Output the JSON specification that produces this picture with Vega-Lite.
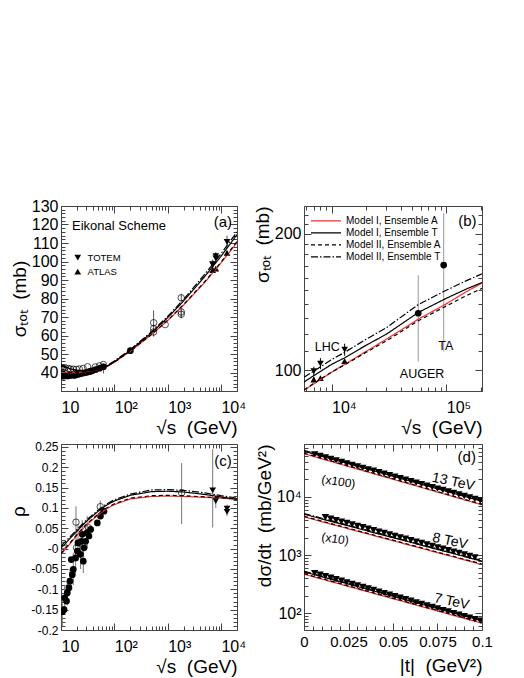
{
  "$schema": "https://vega.github.io/schema/vega-lite/v6.json",
  "padding": {"left": 9, "top": 197, "right": 5, "bottom": 0},
  "config": {
    "font": "Liberation Sans",
    "view": {"stroke": "#444", "strokeWidth": 1},
    "axis": {"domain": false, "grid": false, "labelFont": "Liberation Sans", "labelFontSize": 16, "labelColor": "#000", "titleFont": "Liberation Sans", "titleFontSize": 19, "titleFontWeight": "normal", "titleColor": "#000", "tickColor": "#444", "tickWidth": 1},
    "legend": {"labelFont": "Liberation Sans", "labelColor": "#000", "padding": 0},
    "text": {"font": "Liberation Sans", "color": "#000"}
  },
  "columns": 2,
  "spacing": {"row": 2, "column": 5},
  "resolve": {"scale": {"color": "independent", "shape": "independent", "strokeDash": "independent"}},
  "datasets": {
    "dA": [
      {"x": 10.0, "y": 38.2, "g": "pp"}, {"x": 10.7, "y": 38.0, "g": "pp"}, {"x": 11.5, "y": 38.3, "g": "pp"}, {"x": 12.3, "y": 38.1, "g": "pp"},
      {"x": 13.1, "y": 38.4, "g": "pp"}, {"x": 13.8, "y": 38.2, "g": "pp"}, {"x": 15.0, "y": 38.5, "g": "pp"}, {"x": 16.3, "y": 38.6, "g": "pp"},
      {"x": 17.5, "y": 38.7, "g": "pp"}, {"x": 18.2, "y": 38.5, "g": "pp"}, {"x": 19.4, "y": 38.9, "g": "pp"}, {"x": 20.7, "y": 39.0, "g": "pp"},
      {"x": 21.7, "y": 39.2, "g": "pp"}, {"x": 23.5, "y": 39.4, "g": "pp"}, {"x": 24.5, "y": 39.6, "g": "pp"}, {"x": 27.4, "y": 39.8, "g": "pp"},
      {"x": 30.6, "y": 40.1, "g": "pp"}, {"x": 33.0, "y": 40.4, "g": "pp"}, {"x": 35.0, "y": 40.6, "g": "pp"}, {"x": 38.3, "y": 40.9, "g": "pp"},
      {"x": 44.7, "y": 41.6, "g": "pp"}, {"x": 52.8, "y": 42.3, "g": "pp"}, {"x": 62.5, "y": 43.1, "lo": 39.5, "hi": 44.5, "g": "pp"},
      {"x": 200, "y": 51.8, "lo": 50.4, "hi": 53.2, "g": "pp"},
      {"x": 10.0, "y": 42.8, "g": "ppbar"}, {"x": 11.0, "y": 42.4, "g": "ppbar"}, {"x": 12.0, "y": 42.6, "g": "ppbar"}, {"x": 13.8, "y": 42.1, "g": "ppbar"},
      {"x": 15.0, "y": 41.9, "g": "ppbar"}, {"x": 17.0, "y": 41.8, "g": "ppbar"}, {"x": 19.4, "y": 41.7, "g": "ppbar"}, {"x": 22.0, "y": 41.9, "g": "ppbar"},
      {"x": 26.0, "y": 42.2, "g": "ppbar"}, {"x": 31.5, "y": 43.1, "g": "ppbar"}, {"x": 44.0, "y": 43.0, "g": "ppbar"}, {"x": 52.6, "y": 43.6, "g": "ppbar"},
      {"x": 62.3, "y": 44.3, "g": "ppbar"},
      {"x": 546, "y": 66.9, "lo": 59.4, "hi": 73.6, "g": "ppbar"}, {"x": 546, "y": 63.7, "g": "ppbar"}, {"x": 546, "y": 61.9, "g": "ppbar"},
      {"x": 900, "y": 65.9, "g": "ppbar"},
      {"x": 1800, "y": 80.4, "lo": 78.2, "hi": 82.6, "g": "ppbar"}, {"x": 1800, "y": 72.7, "lo": 69.6, "hi": 75.8, "g": "ppbar"}, {"x": 1800, "y": 71.5, "lo": 69.3, "hi": 73.7, "g": "ppbar"},
      {"x": 7000, "y": 98.3, "lo": 95.5, "hi": 101.1, "g": "TOTEM"}, {"x": 7000, "y": 98.6, "lo": 96.4, "hi": 100.8, "g": "TOTEM"},
      {"x": 8000, "y": 101.7, "lo": 98.8, "hi": 104.6, "g": "TOTEM"}, {"x": 8000, "y": 102.9, "lo": 100.6, "hi": 105.2, "g": "TOTEM"},
      {"x": 13000, "y": 110.6, "lo": 107.2, "hi": 114.0, "g": "TOTEM"},
      {"x": 7000, "y": 95.4, "lo": 94.0, "hi": 96.7, "g": "ATLAS"}, {"x": 8000, "y": 96.1, "lo": 95.1, "hi": 97.0, "g": "ATLAS"},
      {"x": 13000, "y": 104.7, "lo": 103.6, "hi": 105.8, "g": "ATLAS"}
    ],
    "cA": [
      {"x": 10, "y": 40.5, "m": "Model I, Ensemble A"}, {"x": 15, "y": 39.8, "m": "Model I, Ensemble A"}, {"x": 20, "y": 40.0, "m": "Model I, Ensemble A"},
      {"x": 30, "y": 40.5, "m": "Model I, Ensemble A"}, {"x": 50, "y": 41.5, "m": "Model I, Ensemble A"}, {"x": 70, "y": 43.0, "m": "Model I, Ensemble A"},
      {"x": 100, "y": 45.5, "m": "Model I, Ensemble A"}, {"x": 200, "y": 51.5, "m": "Model I, Ensemble A"}, {"x": 500, "y": 60.5, "m": "Model I, Ensemble A"},
      {"x": 1000, "y": 68.0, "m": "Model I, Ensemble A"}, {"x": 2000, "y": 76.5, "m": "Model I, Ensemble A"}, {"x": 5000, "y": 88.8, "m": "Model I, Ensemble A"},
      {"x": 10000, "y": 99.2, "m": "Model I, Ensemble A"}, {"x": 20000, "y": 110.2, "m": "Model I, Ensemble A"},
      {"x": 10, "y": 44.0, "m": "Model I, Ensemble T"}, {"x": 15, "y": 42.0, "m": "Model I, Ensemble T"}, {"x": 20, "y": 41.2, "m": "Model I, Ensemble T"},
      {"x": 30, "y": 40.8, "m": "Model I, Ensemble T"}, {"x": 50, "y": 41.5, "m": "Model I, Ensemble T"}, {"x": 70, "y": 43.0, "m": "Model I, Ensemble T"},
      {"x": 100, "y": 45.8, "m": "Model I, Ensemble T"}, {"x": 200, "y": 52.0, "m": "Model I, Ensemble T"}, {"x": 500, "y": 61.5, "m": "Model I, Ensemble T"},
      {"x": 1000, "y": 69.6, "m": "Model I, Ensemble T"}, {"x": 2000, "y": 78.7, "m": "Model I, Ensemble T"}, {"x": 5000, "y": 92.0, "m": "Model I, Ensemble T"},
      {"x": 10000, "y": 102.8, "m": "Model I, Ensemble T"}, {"x": 20000, "y": 114.5, "m": "Model I, Ensemble T"},
      {"x": 10, "y": 40.8, "m": "Model II, Ensemble A"}, {"x": 15, "y": 40.0, "m": "Model II, Ensemble A"}, {"x": 20, "y": 40.1, "m": "Model II, Ensemble A"},
      {"x": 30, "y": 40.6, "m": "Model II, Ensemble A"}, {"x": 50, "y": 41.6, "m": "Model II, Ensemble A"}, {"x": 70, "y": 43.1, "m": "Model II, Ensemble A"},
      {"x": 100, "y": 45.6, "m": "Model II, Ensemble A"}, {"x": 200, "y": 51.6, "m": "Model II, Ensemble A"}, {"x": 500, "y": 60.6, "m": "Model II, Ensemble A"},
      {"x": 1000, "y": 68.2, "m": "Model II, Ensemble A"}, {"x": 2000, "y": 76.8, "m": "Model II, Ensemble A"}, {"x": 5000, "y": 89.2, "m": "Model II, Ensemble A"},
      {"x": 10000, "y": 99.6, "m": "Model II, Ensemble A"}, {"x": 20000, "y": 110.8, "m": "Model II, Ensemble A"},
      {"x": 10, "y": 43.5, "m": "Model II, Ensemble T"}, {"x": 15, "y": 41.8, "m": "Model II, Ensemble T"}, {"x": 20, "y": 41.2, "m": "Model II, Ensemble T"},
      {"x": 30, "y": 41.0, "m": "Model II, Ensemble T"}, {"x": 50, "y": 41.8, "m": "Model II, Ensemble T"}, {"x": 70, "y": 43.4, "m": "Model II, Ensemble T"},
      {"x": 100, "y": 46.2, "m": "Model II, Ensemble T"}, {"x": 200, "y": 52.4, "m": "Model II, Ensemble T"}, {"x": 500, "y": 62.0, "m": "Model II, Ensemble T"},
      {"x": 1000, "y": 70.3, "m": "Model II, Ensemble T"}, {"x": 2000, "y": 79.6, "m": "Model II, Ensemble T"}, {"x": 5000, "y": 93.2, "m": "Model II, Ensemble T"},
      {"x": 10000, "y": 104.2, "m": "Model II, Ensemble T"}, {"x": 20000, "y": 116.0, "m": "Model II, Ensemble T"}
    ],
    "tA1": [{"x": 16.1, "y": 119.2, "label": "Eikonal Scheme"}],
    "tA2": [{"x": 7300, "y": 121.5, "label": "(a)"}],
    "dB": [
      {"x": 7000, "y": 99.5, "lo": 97.3, "hi": 101.8, "g": "TOTEM"}, {"x": 8000, "y": 103.4, "lo": 100.5, "hi": 106.3, "g": "TOTEM"},
      {"x": 13000, "y": 111.0, "lo": 107.6, "hi": 114.4, "g": "TOTEM"},
      {"x": 7000, "y": 95.4, "lo": 94.0, "hi": 96.7, "g": "ATLAS"}, {"x": 8000, "y": 96.1, "lo": 95.1, "hi": 97.0, "g": "ATLAS"},
      {"x": 13000, "y": 104.7, "lo": 103.6, "hi": 105.8, "g": "ATLAS"},
      {"x": 57000, "y": 133.5, "lo": 104.5, "hi": 162, "g": "AUGER"},
      {"x": 95000, "y": 170.5, "lo": 110, "hi": 222, "g": "TA"}
    ],
    "cB": [
      {"x": 5750, "y": 90.3, "m": "Model I, Ensemble A"}, {"x": 7000, "y": 93.3, "m": "Model I, Ensemble A"}, {"x": 10000, "y": 99, "m": "Model I, Ensemble A"},
      {"x": 13000, "y": 103, "m": "Model I, Ensemble A"}, {"x": 20000, "y": 110, "m": "Model I, Ensemble A"}, {"x": 30000, "y": 117, "m": "Model I, Ensemble A"},
      {"x": 57000, "y": 129.5, "m": "Model I, Ensemble A"}, {"x": 100000, "y": 140, "m": "Model I, Ensemble A"}, {"x": 150000, "y": 149, "m": "Model I, Ensemble A"},
      {"x": 205000, "y": 155.5, "m": "Model I, Ensemble A"},
      {"x": 5750, "y": 94.2, "m": "Model I, Ensemble T"}, {"x": 7000, "y": 97.3, "m": "Model I, Ensemble T"}, {"x": 10000, "y": 103, "m": "Model I, Ensemble T"},
      {"x": 13000, "y": 106.5, "m": "Model I, Ensemble T"}, {"x": 20000, "y": 113.5, "m": "Model I, Ensemble T"}, {"x": 30000, "y": 120, "m": "Model I, Ensemble T"},
      {"x": 57000, "y": 134, "m": "Model I, Ensemble T"}, {"x": 100000, "y": 144, "m": "Model I, Ensemble T"}, {"x": 150000, "y": 151, "m": "Model I, Ensemble T"},
      {"x": 205000, "y": 156, "m": "Model I, Ensemble T"},
      {"x": 5750, "y": 90.5, "m": "Model II, Ensemble A"}, {"x": 7000, "y": 93.5, "m": "Model II, Ensemble A"}, {"x": 10000, "y": 99, "m": "Model II, Ensemble A"},
      {"x": 13000, "y": 102.8, "m": "Model II, Ensemble A"}, {"x": 20000, "y": 109.5, "m": "Model II, Ensemble A"}, {"x": 30000, "y": 116, "m": "Model II, Ensemble A"},
      {"x": 57000, "y": 128.5, "m": "Model II, Ensemble A"}, {"x": 100000, "y": 138.5, "m": "Model II, Ensemble A"}, {"x": 150000, "y": 146, "m": "Model II, Ensemble A"},
      {"x": 205000, "y": 151.5, "m": "Model II, Ensemble A"},
      {"x": 5750, "y": 96.5, "m": "Model II, Ensemble T"}, {"x": 7000, "y": 99.5, "m": "Model II, Ensemble T"}, {"x": 10000, "y": 105.5, "m": "Model II, Ensemble T"},
      {"x": 13000, "y": 109.5, "m": "Model II, Ensemble T"}, {"x": 20000, "y": 117, "m": "Model II, Ensemble T"}, {"x": 30000, "y": 124, "m": "Model II, Ensemble T"},
      {"x": 57000, "y": 139.5, "m": "Model II, Ensemble T"}, {"x": 100000, "y": 150, "m": "Model II, Ensemble T"}, {"x": 150000, "y": 157.5, "m": "Model II, Ensemble T"},
      {"x": 205000, "y": 163, "m": "Model II, Ensemble T"}
    ],
    "tB1": [
      {"x": 7150, "y": 112.5, "label": "LHC"}, {"x": 39400, "y": 98.3, "label": "AUGER"}, {"x": 85100, "y": 112.9, "label": "TA"}
    ],
    "tB2": [{"x": 127000, "y": 213.4, "label": "(b)"}],
    "dC": [
      {"x": 10.6, "y": -0.155, "lo": -0.19, "hi": -0.12, "g": "pp"}, {"x": 11.4, "y": -0.150, "g": "pp"}, {"x": 11.7, "y": -0.121, "lo": -0.15, "hi": -0.09, "g": "pp"},
      {"x": 12.7, "y": -0.129, "g": "pp"}, {"x": 13.1, "y": -0.109, "lo": -0.14, "hi": -0.08, "g": "pp"}, {"x": 14.1, "y": -0.096, "g": "pp"},
      {"x": 14.7, "y": -0.080, "lo": -0.11, "hi": -0.05, "g": "pp"}, {"x": 16.3, "y": -0.064, "g": "pp"}, {"x": 17.0, "y": -0.051, "lo": -0.09, "hi": -0.01, "g": "pp"},
      {"x": 15.6, "y": -0.027, "g": "pp"}, {"x": 18.8, "y": -0.023, "lo": -0.06, "hi": 0.015, "g": "pp"}, {"x": 20.2, "y": -0.006, "g": "pp"},
      {"x": 20.8, "y": 0.014, "lo": -0.03, "hi": 0.06, "g": "pp"}, {"x": 23.3, "y": -0.014, "lo": -0.05, "hi": 0.02, "g": "pp"}, {"x": 24.0, "y": 0.018, "g": "pp"},
      {"x": 25.0, "y": 0.035, "lo": 0.0, "hi": 0.07, "g": "pp"}, {"x": 26.2, "y": -0.031, "lo": -0.06, "hi": 0.0, "g": "pp"}, {"x": 27.0, "y": 0.002, "g": "pp"},
      {"x": 29.0, "y": 0.018, "g": "pp"}, {"x": 31.0, "y": 0.039, "lo": 0.0, "hi": 0.08, "g": "pp"}, {"x": 33.5, "y": 0.031, "g": "pp"},
      {"x": 36.0, "y": 0.047, "g": "pp"}, {"x": 48.0, "y": 0.063, "g": "pp"}, {"x": 55.0, "y": 0.080, "g": "pp"}, {"x": 64.0, "y": 0.092, "g": "pp"},
      {"x": 11.0, "y": 0.008, "g": "ppbar"}, {"x": 19.1, "y": 0.065, "lo": 0.01, "hi": 0.104, "g": "ppbar"}, {"x": 19.5, "y": 0.002, "g": "ppbar"},
      {"x": 33.0, "y": 0.051, "g": "ppbar"}, {"x": 54.6, "y": 0.103, "lo": 0.088, "hi": 0.118, "g": "ppbar"},
      {"x": 1830, "y": 0.137, "lo": 0.06, "hi": 0.21, "g": "ppbar"},
      {"x": 7000, "y": 0.143, "lo": 0.052, "hi": 0.244, "g": "TOTEM"}, {"x": 8000, "y": 0.117, "lo": 0.1, "hi": 0.129, "g": "TOTEM"},
      {"x": 13000, "y": 0.098, "lo": 0.088, "hi": 0.108, "g": "TOTEM"}, {"x": 13000, "y": 0.090, "lo": 0.080, "hi": 0.100, "g": "TOTEM"}
    ],
    "cC": [
      {"x": 10, "y": -0.014, "m": "Model I, Ensemble A"}, {"x": 12, "y": -0.002, "m": "Model I, Ensemble A"}, {"x": 15, "y": 0.013, "m": "Model I, Ensemble A"},
      {"x": 20, "y": 0.033, "m": "Model I, Ensemble A"}, {"x": 30, "y": 0.058, "m": "Model I, Ensemble A"}, {"x": 50, "y": 0.083, "m": "Model I, Ensemble A"},
      {"x": 70, "y": 0.097, "m": "Model I, Ensemble A"}, {"x": 100, "y": 0.108, "m": "Model I, Ensemble A"}, {"x": 200, "y": 0.122, "m": "Model I, Ensemble A"},
      {"x": 500, "y": 0.128, "m": "Model I, Ensemble A"}, {"x": 1000, "y": 0.129, "m": "Model I, Ensemble A"}, {"x": 2000, "y": 0.128, "m": "Model I, Ensemble A"},
      {"x": 5000, "y": 0.126, "m": "Model I, Ensemble A"}, {"x": 10000, "y": 0.124, "m": "Model I, Ensemble A"}, {"x": 20000, "y": 0.121, "m": "Model I, Ensemble A"},
      {"x": 10, "y": 0.002, "m": "Model I, Ensemble T"}, {"x": 12, "y": 0.012, "m": "Model I, Ensemble T"}, {"x": 15, "y": 0.026, "m": "Model I, Ensemble T"},
      {"x": 20, "y": 0.043, "m": "Model I, Ensemble T"}, {"x": 30, "y": 0.067, "m": "Model I, Ensemble T"}, {"x": 50, "y": 0.092, "m": "Model I, Ensemble T"},
      {"x": 70, "y": 0.106, "m": "Model I, Ensemble T"}, {"x": 100, "y": 0.117, "m": "Model I, Ensemble T"}, {"x": 200, "y": 0.131, "m": "Model I, Ensemble T"},
      {"x": 500, "y": 0.140, "m": "Model I, Ensemble T"}, {"x": 1000, "y": 0.141, "m": "Model I, Ensemble T"}, {"x": 2000, "y": 0.139, "m": "Model I, Ensemble T"},
      {"x": 5000, "y": 0.133, "m": "Model I, Ensemble T"}, {"x": 10000, "y": 0.127, "m": "Model I, Ensemble T"}, {"x": 20000, "y": 0.121, "m": "Model I, Ensemble T"},
      {"x": 10, "y": -0.012, "m": "Model II, Ensemble A"}, {"x": 12, "y": 0.0, "m": "Model II, Ensemble A"}, {"x": 15, "y": 0.015, "m": "Model II, Ensemble A"},
      {"x": 20, "y": 0.035, "m": "Model II, Ensemble A"}, {"x": 30, "y": 0.060, "m": "Model II, Ensemble A"}, {"x": 50, "y": 0.085, "m": "Model II, Ensemble A"},
      {"x": 70, "y": 0.099, "m": "Model II, Ensemble A"}, {"x": 100, "y": 0.110, "m": "Model II, Ensemble A"}, {"x": 200, "y": 0.124, "m": "Model II, Ensemble A"},
      {"x": 500, "y": 0.130, "m": "Model II, Ensemble A"}, {"x": 1000, "y": 0.131, "m": "Model II, Ensemble A"}, {"x": 2000, "y": 0.130, "m": "Model II, Ensemble A"},
      {"x": 5000, "y": 0.127, "m": "Model II, Ensemble A"}, {"x": 10000, "y": 0.125, "m": "Model II, Ensemble A"}, {"x": 20000, "y": 0.122, "m": "Model II, Ensemble A"},
      {"x": 10, "y": 0.007, "m": "Model II, Ensemble T"}, {"x": 12, "y": 0.017, "m": "Model II, Ensemble T"}, {"x": 15, "y": 0.030, "m": "Model II, Ensemble T"},
      {"x": 20, "y": 0.047, "m": "Model II, Ensemble T"}, {"x": 30, "y": 0.070, "m": "Model II, Ensemble T"}, {"x": 50, "y": 0.095, "m": "Model II, Ensemble T"},
      {"x": 70, "y": 0.109, "m": "Model II, Ensemble T"}, {"x": 100, "y": 0.120, "m": "Model II, Ensemble T"}, {"x": 200, "y": 0.134, "m": "Model II, Ensemble T"},
      {"x": 500, "y": 0.144, "m": "Model II, Ensemble T"}, {"x": 1000, "y": 0.145, "m": "Model II, Ensemble T"}, {"x": 2000, "y": 0.143, "m": "Model II, Ensemble T"},
      {"x": 5000, "y": 0.137, "m": "Model II, Ensemble T"}, {"x": 10000, "y": 0.130, "m": "Model II, Ensemble T"}, {"x": 20000, "y": 0.124, "m": "Model II, Ensemble T"}
    ],
    "tC": [{"x": 7520, "y": 0.215, "label": "(c)"}],
    "dD": [
      {"x": 0.006, "y": 53380, "e": "13"}, {"x": 0.009, "y": 50340, "e": "13"}, {"x": 0.012, "y": 47480, "e": "13"}, {"x": 0.015, "y": 44790, "e": "13"},
      {"x": 0.018, "y": 42240, "e": "13"}, {"x": 0.021, "y": 39840, "e": "13"}, {"x": 0.024, "y": 37580, "e": "13"}, {"x": 0.027, "y": 35440, "e": "13"},
      {"x": 0.030, "y": 33430, "e": "13"}, {"x": 0.033, "y": 31530, "e": "13"}, {"x": 0.036, "y": 29730, "e": "13"}, {"x": 0.039, "y": 28050, "e": "13"},
      {"x": 0.042, "y": 26450, "e": "13"}, {"x": 0.045, "y": 24950, "e": "13"}, {"x": 0.048, "y": 23530, "e": "13"}, {"x": 0.051, "y": 22190, "e": "13"},
      {"x": 0.054, "y": 20930, "e": "13"}, {"x": 0.057, "y": 19740, "e": "13"}, {"x": 0.060, "y": 18620, "e": "13"}, {"x": 0.063, "y": 17560, "e": "13"},
      {"x": 0.066, "y": 16570, "e": "13"}, {"x": 0.069, "y": 15620, "e": "13"}, {"x": 0.072, "y": 14740, "e": "13"}, {"x": 0.075, "y": 13900, "e": "13"},
      {"x": 0.078, "y": 13110, "e": "13"}, {"x": 0.081, "y": 12370, "e": "13"}, {"x": 0.084, "y": 11660, "e": "13"}, {"x": 0.087, "y": 11000, "e": "13"},
      {"x": 0.090, "y": 10380, "e": "13"}, {"x": 0.093, "y": 9790, "e": "13"}, {"x": 0.096, "y": 9230, "e": "13"}, {"x": 0.099, "y": 8710, "e": "13"},
      {"x": 0.012, "y": 4470, "e": "8"}, {"x": 0.015, "y": 4224, "e": "8"}, {"x": 0.018, "y": 3992, "e": "8"}, {"x": 0.021, "y": 3772, "e": "8"},
      {"x": 0.024, "y": 3565, "e": "8"}, {"x": 0.027, "y": 3369, "e": "8"}, {"x": 0.030, "y": 3184, "e": "8"}, {"x": 0.033, "y": 3009, "e": "8"},
      {"x": 0.036, "y": 2843, "e": "8"}, {"x": 0.039, "y": 2687, "e": "8"}, {"x": 0.042, "y": 2539, "e": "8"}, {"x": 0.045, "y": 2399, "e": "8"},
      {"x": 0.048, "y": 2267, "e": "8"}, {"x": 0.051, "y": 2143, "e": "8"}, {"x": 0.054, "y": 2025, "e": "8"}, {"x": 0.057, "y": 1914, "e": "8"},
      {"x": 0.060, "y": 1808, "e": "8"}, {"x": 0.063, "y": 1709, "e": "8"}, {"x": 0.066, "y": 1615, "e": "8"}, {"x": 0.069, "y": 1526, "e": "8"},
      {"x": 0.072, "y": 1442, "e": "8"}, {"x": 0.075, "y": 1363, "e": "8"}, {"x": 0.078, "y": 1288, "e": "8"}, {"x": 0.081, "y": 1217, "e": "8"},
      {"x": 0.084, "y": 1150, "e": "8"}, {"x": 0.087, "y": 1087, "e": "8"}, {"x": 0.090, "y": 1027, "e": "8"}, {"x": 0.093, "y": 971, "e": "8"},
      {"x": 0.096, "y": 917, "e": "8"},
      {"x": 0.006, "y": 492, "e": "7"}, {"x": 0.009, "y": 463, "e": "7"}, {"x": 0.012, "y": 436, "e": "7"}, {"x": 0.015, "y": 410, "e": "7"},
      {"x": 0.018, "y": 386, "e": "7"}, {"x": 0.021, "y": 363, "e": "7"}, {"x": 0.024, "y": 342, "e": "7"}, {"x": 0.027, "y": 322, "e": "7"},
      {"x": 0.030, "y": 303, "e": "7"}, {"x": 0.033, "y": 285, "e": "7"}, {"x": 0.036, "y": 268, "e": "7"}, {"x": 0.039, "y": 252, "e": "7"},
      {"x": 0.042, "y": 237, "e": "7"}, {"x": 0.045, "y": 223, "e": "7"}, {"x": 0.048, "y": 210, "e": "7"}, {"x": 0.051, "y": 198, "e": "7"},
      {"x": 0.054, "y": 186, "e": "7"}, {"x": 0.057, "y": 175, "e": "7"}, {"x": 0.060, "y": 165, "e": "7"}, {"x": 0.063, "y": 155, "e": "7"},
      {"x": 0.066, "y": 146, "e": "7"}, {"x": 0.069, "y": 137, "e": "7"}, {"x": 0.072, "y": 129, "e": "7"}, {"x": 0.075, "y": 122, "e": "7"},
      {"x": 0.078, "y": 114, "e": "7"}, {"x": 0.081, "y": 108, "e": "7"}, {"x": 0.084, "y": 101, "e": "7"}, {"x": 0.087, "y": 95.3, "e": "7"},
      {"x": 0.090, "y": 89.7, "e": "7"}, {"x": 0.093, "y": 84.4, "e": "7"}, {"x": 0.096, "y": 79.4, "e": "7"}, {"x": 0.099, "y": 74.7, "e": "7"}
    ],
    "cD": [
      {"x": 0, "y": 55300, "m": "Model I, Ensemble A", "e": "13"}, {"x": 0.1, "y": 7300, "m": "Model I, Ensemble A", "e": "13"},
      {"x": 0, "y": 61000, "m": "Model I, Ensemble T", "e": "13"}, {"x": 0.1, "y": 8400, "m": "Model I, Ensemble T", "e": "13"},
      {"x": 0, "y": 56500, "m": "Model II, Ensemble A", "e": "13"}, {"x": 0.1, "y": 7450, "m": "Model II, Ensemble A", "e": "13"},
      {"x": 0, "y": 63000, "m": "Model II, Ensemble T", "e": "13"}, {"x": 0.1, "y": 8700, "m": "Model II, Ensemble T", "e": "13"},
      {"x": 0, "y": 4540, "m": "Model I, Ensemble A", "e": "8"}, {"x": 0.1, "y": 690, "m": "Model I, Ensemble A", "e": "8"},
      {"x": 0, "y": 5050, "m": "Model I, Ensemble T", "e": "8"}, {"x": 0.1, "y": 790, "m": "Model I, Ensemble T", "e": "8"},
      {"x": 0, "y": 4650, "m": "Model II, Ensemble A", "e": "8"}, {"x": 0.1, "y": 705, "m": "Model II, Ensemble A", "e": "8"},
      {"x": 0, "y": 5200, "m": "Model II, Ensemble T", "e": "8"}, {"x": 0.1, "y": 810, "m": "Model II, Ensemble T", "e": "8"},
      {"x": 0, "y": 472, "m": "Model I, Ensemble A", "e": "7"}, {"x": 0.1, "y": 68, "m": "Model I, Ensemble A", "e": "7"},
      {"x": 0, "y": 518, "m": "Model I, Ensemble T", "e": "7"}, {"x": 0.1, "y": 74.8, "m": "Model I, Ensemble T", "e": "7"},
      {"x": 0, "y": 482, "m": "Model II, Ensemble A", "e": "7"}, {"x": 0.1, "y": 69.5, "m": "Model II, Ensemble A", "e": "7"},
      {"x": 0, "y": 532, "m": "Model II, Ensemble T", "e": "7"}, {"x": 0.1, "y": 77, "m": "Model II, Ensemble T", "e": "7"}
    ],
    "tD1": [
      {"x": 0.072, "y": 21500, "label": "13 TeV"}, {"x": 0.0723, "y": 2010, "label": "8 TeV"}, {"x": 0.0732, "y": 184, "label": "7 TeV"}
    ],
    "tD2": [
      {"x": 0.0099, "y": 20100, "label": "(x100)"}, {"x": 0.0099, "y": 2060, "label": "(x10)"}
    ],
    "tD3": [{"x": 0.0863, "y": 48500, "label": "(d)"}]
  },
  "concat": [
    {
      "width": 176, "height": 185,
      "resolve": {"axis": {"x": "independent", "y": "independent"}},
      "layer": [
        {
          "data": {"name": "dA"},
          "transform": [{"filter": "isValid(datum.lo)"}],
          "mark": {"type": "rule", "color": "#555", "strokeWidth": 1, "clip": true},
          "encoding": {
            "x": {"field": "x", "type": "quantitative", "scale": {"type": "log", "domain": [10, 20000], "nice": false},
                  "axis": {"orient": "bottom", "values": [10, 100, 1000, 10000], "labelExpr": "datum.value < 50 ? '10' : datum.value < 500 ? '10²' : datum.value < 5000 ? '10³' : '10⁴'", "labelAlign": "left", "labelDx": -9, "labelFlush": false, "ticks": false, "labelPadding": 8, "title": "√s \u00a0(GeV)", "titleAnchor": "end", "titlePadding": 3}},
            "y": {"field": "lo", "type": "quantitative", "scale": {"domain": [30, 130], "nice": false},
                  "axis": {"orient": "left", "values": [40, 50, 60, 70, 80, 90, 100, 110, 120, 130], "ticks": false, "labelPadding": 3, "title": "σₜₒₜ \u00a0(mb)", "titlePadding": 2}},
            "y2": {"field": "hi"}
          }
        },
        {
          "data": {"name": "dA"},
          "transform": [{"filter": "datum.g == 'ppbar'"}],
          "mark": {"type": "point", "shape": "circle", "filled": false, "color": "#000", "strokeWidth": 1, "size": 42, "clip": true},
          "encoding": {
            "x": {"field": "x", "type": "quantitative", "scale": {"type": "log", "domain": [10, 20000], "nice": false},
                  "axis": {"orient": "bottom", "values": [10, 100, 1000, 10000], "labels": false, "tickSize": -7, "title": null}},
            "y": {"field": "y", "type": "quantitative", "scale": {"domain": [30, 130], "nice": false},
                  "axis": {"orient": "left", "values": [30, 40, 50, 60, 70, 80, 90, 100, 110, 120, 130], "labels": false, "tickSize": -7, "title": null}}
          }
        },
        {
          "data": {"name": "dA"},
          "transform": [{"filter": "datum.g != 'ppbar'"}],
          "mark": {"type": "point", "filled": true, "color": "#000", "size": 45, "opacity": 1, "clip": true},
          "encoding": {
            "x": {"field": "x", "type": "quantitative", "scale": {"type": "log", "domain": [10, 20000], "nice": false},
                  "axis": {"orient": "bottom", "values": [20, 30, 40, 50, 60, 70, 80, 90, 200, 300, 400, 500, 600, 700, 800, 900, 2000, 3000, 4000, 5000, 6000, 7000, 8000, 9000, 20000], "labels": false, "tickSize": -4, "title": null}},
            "y": {"field": "y", "type": "quantitative", "scale": {"domain": [30, 130], "nice": false},
                  "axis": {"orient": "left", "values": [30, 32, 34, 36, 38, 40, 42, 44, 46, 48, 50, 52, 54, 56, 58, 60, 62, 64, 66, 68, 70, 72, 74, 76, 78, 80, 82, 84, 86, 88, 90, 92, 94, 96, 98, 100, 102, 104, 106, 108, 110, 112, 114, 116, 118, 120, 122, 124, 126, 128, 130], "labels": false, "tickSize": -4, "title": null}},
            "shape": {"field": "g", "type": "nominal", "scale": {"domain": ["TOTEM", "ATLAS", "pp"], "range": ["triangle-down", "triangle-up", "circle"]},
                      "legend": {"values": ["TOTEM", "ATLAS"], "title": null, "orient": "none", "legendX": 12, "legendY": 45, "labelFontSize": 9.5, "symbolSize": 45, "symbolFillColor": "#000", "symbolStrokeColor": "#000", "symbolStrokeWidth": 0, "clipHeight": 13.3, "rowPadding": 0, "labelOffset": 5}}
          }
        },
        {
          "data": {"name": "cA"},
          "mark": {"type": "line", "strokeWidth": 1.2, "clip": true},
          "encoding": {
            "x": {"field": "x", "type": "quantitative", "scale": {"type": "log", "domain": [10, 20000], "nice": false},
                  "axis": {"orient": "top", "values": [10, 100, 1000, 10000], "labels": false, "tickSize": -7, "title": null}},
            "y": {"field": "y", "type": "quantitative", "scale": {"domain": [30, 130], "nice": false},
                  "axis": {"orient": "right", "values": [30, 40, 50, 60, 70, 80, 90, 100, 110, 120, 130], "labels": false, "tickSize": -7, "title": null}},
            "color": {"field": "m", "type": "nominal", "scale": {"domain": ["Model I, Ensemble A", "Model I, Ensemble T", "Model II, Ensemble A", "Model II, Ensemble T"], "range": ["#ff2a2a", "#000000", "#000000", "#000000"]}, "legend": null},
            "strokeDash": {"field": "m", "type": "nominal", "scale": {"domain": ["Model I, Ensemble A", "Model I, Ensemble T", "Model II, Ensemble A", "Model II, Ensemble T"], "range": [[1, 0], [1, 0], [4, 3], [7, 2, 1.5, 2]]}, "legend": null}
          }
        },
        {
          "data": {"name": "tA1"},
          "mark": {"type": "text", "align": "left", "baseline": "middle", "fontSize": 13},
          "encoding": {
            "x": {"field": "x", "type": "quantitative", "scale": {"type": "log", "domain": [10, 20000], "nice": false},
                  "axis": {"orient": "top", "values": [20, 30, 40, 50, 60, 70, 80, 90, 200, 300, 400, 500, 600, 700, 800, 900, 2000, 3000, 4000, 5000, 6000, 7000, 8000, 9000, 20000], "labels": false, "tickSize": -4, "title": null}},
            "y": {"field": "y", "type": "quantitative", "scale": {"domain": [30, 130], "nice": false},
                  "axis": {"orient": "right", "values": [30, 32, 34, 36, 38, 40, 42, 44, 46, 48, 50, 52, 54, 56, 58, 60, 62, 64, 66, 68, 70, 72, 74, 76, 78, 80, 82, 84, 86, 88, 90, 92, 94, 96, 98, 100, 102, 104, 106, 108, 110, 112, 114, 116, 118, 120, 122, 124, 126, 128, 130], "labels": false, "tickSize": -4, "title": null}},
            "text": {"field": "label"}
          }
        },
        {
          "data": {"name": "tA2"},
          "mark": {"type": "text", "align": "left", "baseline": "middle", "fontSize": 15},
          "encoding": {
            "x": {"field": "x", "type": "quantitative", "scale": {"type": "log", "domain": [10, 20000], "nice": false}, "axis": null},
            "y": {"field": "y", "type": "quantitative", "scale": {"domain": [30, 130], "nice": false}, "axis": null},
            "text": {"field": "label"}
          }
        }
      ]
    },
    {
      "width": 178, "height": 185,
      "resolve": {"axis": {"x": "independent", "y": "independent"}},
      "layer": [
        {
          "data": {"name": "dB"},
          "transform": [{"filter": "datum.g == 'AUGER' || datum.g == 'TA'"}],
          "mark": {"type": "rule", "color": "#999", "strokeWidth": 1, "clip": true},
          "encoding": {
            "x": {"field": "x", "type": "quantitative", "scale": {"type": "log", "domain": [5750, 205000], "nice": false},
                  "axis": {"orient": "bottom", "values": [10000, 100000], "labelExpr": "datum.value < 50000 ? '10⁴' : '10⁵'", "labelAlign": "left", "labelDx": -9, "labelFlush": false, "ticks": false, "labelPadding": 8, "title": "√s \u00a0(GeV)", "titleAnchor": "end", "titlePadding": 3}},
            "y": {"field": "lo", "type": "quantitative", "scale": {"type": "log", "domain": [90, 230], "nice": false},
                  "axis": {"orient": "left", "values": [100, 200], "format": "d", "ticks": false, "labelPadding": 3, "title": "σₜₒₜ \u00a0(mb)", "titleAnchor": "end", "titlePadding": 2}},
            "y2": {"field": "hi"}
          }
        },
        {
          "data": {"name": "dB"},
          "transform": [{"filter": "datum.g == 'TOTEM' || datum.g == 'ATLAS'"}],
          "mark": {"type": "rule", "color": "#000", "strokeWidth": 1, "clip": true},
          "encoding": {
            "x": {"field": "x", "type": "quantitative", "scale": {"type": "log", "domain": [5750, 205000], "nice": false},
                  "axis": {"orient": "bottom", "values": [10000, 100000], "labels": false, "tickSize": -7, "title": null}},
            "y": {"field": "lo", "type": "quantitative", "scale": {"type": "log", "domain": [90, 230], "nice": false},
                  "axis": {"orient": "left", "values": [100, 200], "labels": false, "tickSize": -7, "title": null}},
            "y2": {"field": "hi"}
          }
        },
        {
          "data": {"name": "dB"},
          "mark": {"type": "point", "filled": true, "color": "#000", "size": 45, "opacity": 1, "clip": true},
          "encoding": {
            "x": {"field": "x", "type": "quantitative", "scale": {"type": "log", "domain": [5750, 205000], "nice": false},
                  "axis": {"orient": "bottom", "values": [6000, 7000, 8000, 9000, 20000, 30000, 40000, 50000, 60000, 70000, 80000, 90000, 200000], "labels": false, "tickSize": -4, "title": null}},
            "y": {"field": "y", "type": "quantitative", "scale": {"type": "log", "domain": [90, 230], "nice": false},
                  "axis": {"orient": "left", "values": [90, 110, 120, 130, 140, 150, 160, 170, 180, 190, 210, 220], "labels": false, "tickSize": -4, "title": null}},
            "shape": {"field": "g", "type": "nominal", "scale": {"domain": ["TOTEM", "ATLAS", "AUGER", "TA"], "range": ["triangle-down", "triangle-up", "circle", "circle"]}, "legend": null}
          }
        },
        {
          "data": {"name": "cB"},
          "mark": {"type": "line", "strokeWidth": 1.2, "clip": true},
          "encoding": {
            "x": {"field": "x", "type": "quantitative", "scale": {"type": "log", "domain": [5750, 205000], "nice": false},
                  "axis": {"orient": "top", "values": [10000, 100000], "labels": false, "tickSize": -7, "title": null}},
            "y": {"field": "y", "type": "quantitative", "scale": {"type": "log", "domain": [90, 230], "nice": false},
                  "axis": {"orient": "right", "values": [100, 200], "labels": false, "tickSize": -7, "title": null}},
            "color": {"field": "m", "type": "nominal", "scale": {"domain": ["Model I, Ensemble A", "Model I, Ensemble T", "Model II, Ensemble A", "Model II, Ensemble T"], "range": ["#ff2a2a", "#000000", "#000000", "#000000"]},
                      "legend": {"title": null, "orient": "none", "legendX": 6, "legendY": 9, "symbolType": "stroke", "symbolSize": 900, "symbolStrokeWidth": 1.3, "labelFontSize": 10, "clipHeight": 11.7, "rowPadding": 0, "labelOffset": 4}},
            "strokeDash": {"field": "m", "type": "nominal", "scale": {"domain": ["Model I, Ensemble A", "Model I, Ensemble T", "Model II, Ensemble A", "Model II, Ensemble T"], "range": [[1, 0], [1, 0], [4, 3], [7, 2, 1.5, 2]]},
                      "legend": {"title": null, "orient": "none", "legendX": 6, "legendY": 9, "symbolType": "stroke", "symbolSize": 900, "symbolStrokeWidth": 1.3, "labelFontSize": 10, "clipHeight": 11.7, "rowPadding": 0, "labelOffset": 4}}
          }
        },
        {
          "data": {"name": "tB1"},
          "mark": {"type": "text", "align": "left", "baseline": "middle", "fontSize": 12.5},
          "encoding": {
            "x": {"field": "x", "type": "quantitative", "scale": {"type": "log", "domain": [5750, 205000], "nice": false},
                  "axis": {"orient": "top", "values": [6000, 7000, 8000, 9000, 20000, 30000, 40000, 50000, 60000, 70000, 80000, 90000, 200000], "labels": false, "tickSize": -4, "title": null}},
            "y": {"field": "y", "type": "quantitative", "scale": {"type": "log", "domain": [90, 230], "nice": false},
                  "axis": {"orient": "right", "values": [90, 110, 120, 130, 140, 150, 160, 170, 180, 190, 210, 220], "labels": false, "tickSize": -4, "title": null}},
            "text": {"field": "label"}
          }
        },
        {
          "data": {"name": "tB2"},
          "mark": {"type": "text", "align": "left", "baseline": "middle", "fontSize": 15},
          "encoding": {
            "x": {"field": "x", "type": "quantitative", "scale": {"type": "log", "domain": [5750, 205000], "nice": false}, "axis": null},
            "y": {"field": "y", "type": "quantitative", "scale": {"type": "log", "domain": [90, 230], "nice": false}, "axis": null},
            "text": {"field": "label"}
          }
        }
      ]
    },
    {
      "width": 176, "height": 186,
      "resolve": {"axis": {"x": "independent", "y": "independent"}},
      "layer": [
        {
          "data": {"name": "dC"},
          "transform": [{"filter": "isValid(datum.lo)"}],
          "mark": {"type": "rule", "color": "#777", "strokeWidth": 1, "clip": true},
          "encoding": {
            "x": {"field": "x", "type": "quantitative", "scale": {"type": "log", "domain": [10, 20000], "nice": false},
                  "axis": {"orient": "bottom", "values": [10, 100, 1000, 10000], "labelExpr": "datum.value < 50 ? '10' : datum.value < 500 ? '10²' : datum.value < 5000 ? '10³' : '10⁴'", "labelAlign": "left", "labelDx": -9, "labelFlush": false, "ticks": false, "labelPadding": 8, "title": "√s \u00a0(GeV)", "titleAnchor": "end", "titlePadding": 3}},
            "y": {"field": "lo", "type": "quantitative", "scale": {"domain": [-0.2, 0.257], "nice": false, "zero": false},
                  "axis": {"orient": "left", "values": [-0.2, -0.15, -0.1, -0.05, 0, 0.05, 0.1, 0.15, 0.2, 0.25], "labelExpr": "datum.value == 0 ? '-0' : replace(format(datum.value, '.2~f'), '\u2212', '-')", "labelFontSize": 12, "ticks": false, "labelPadding": 3, "title": "ρ", "titleY": 67, "titlePadding": 2}},
            "y2": {"field": "hi"}
          }
        },
        {
          "data": {"name": "dC"},
          "transform": [{"filter": "datum.g == 'ppbar'"}],
          "mark": {"type": "point", "shape": "circle", "filled": false, "color": "#000", "strokeWidth": 1, "size": 42, "clip": true},
          "encoding": {
            "x": {"field": "x", "type": "quantitative", "scale": {"type": "log", "domain": [10, 20000], "nice": false},
                  "axis": {"orient": "bottom", "values": [10, 100, 1000, 10000], "labels": false, "tickSize": -7, "title": null}},
            "y": {"field": "y", "type": "quantitative", "scale": {"domain": [-0.2, 0.257], "nice": false, "zero": false},
                  "axis": {"orient": "left", "values": [-0.2, -0.15, -0.1, -0.05, 0, 0.05, 0.1, 0.15, 0.2, 0.25], "labels": false, "tickSize": -7, "title": null}}
          }
        },
        {
          "data": {"name": "dC"},
          "transform": [{"filter": "datum.g != 'ppbar'"}],
          "mark": {"type": "point", "filled": true, "color": "#000", "size": 45, "opacity": 1, "clip": true},
          "encoding": {
            "x": {"field": "x", "type": "quantitative", "scale": {"type": "log", "domain": [10, 20000], "nice": false},
                  "axis": {"orient": "bottom", "values": [20, 30, 40, 50, 60, 70, 80, 90, 200, 300, 400, 500, 600, 700, 800, 900, 2000, 3000, 4000, 5000, 6000, 7000, 8000, 9000, 20000], "labels": false, "tickSize": -4, "title": null}},
            "y": {"field": "y", "type": "quantitative", "scale": {"domain": [-0.2, 0.257], "nice": false, "zero": false},
                  "axis": {"orient": "left", "values": [-0.19, -0.18, -0.17, -0.16, -0.14, -0.13, -0.12, -0.11, -0.09, -0.08, -0.07, -0.06, -0.04, -0.03, -0.02, -0.01, 0.01, 0.02, 0.03, 0.04, 0.06, 0.07, 0.08, 0.09, 0.11, 0.12, 0.13, 0.14, 0.16, 0.17, 0.18, 0.19, 0.21, 0.22, 0.23, 0.24], "labels": false, "tickSize": -4, "title": null}},
            "shape": {"field": "g", "type": "nominal", "scale": {"domain": ["TOTEM", "pp"], "range": ["triangle-down", "circle"]}, "legend": null}
          }
        },
        {
          "data": {"name": "cC"},
          "mark": {"type": "line", "strokeWidth": 1.2, "clip": true},
          "encoding": {
            "x": {"field": "x", "type": "quantitative", "scale": {"type": "log", "domain": [10, 20000], "nice": false},
                  "axis": {"orient": "top", "values": [10, 100, 1000, 10000], "labels": false, "tickSize": -7, "title": null}},
            "y": {"field": "y", "type": "quantitative", "scale": {"domain": [-0.2, 0.257], "nice": false, "zero": false},
                  "axis": {"orient": "right", "values": [-0.2, -0.15, -0.1, -0.05, 0, 0.05, 0.1, 0.15, 0.2, 0.25], "labels": false, "tickSize": -7, "title": null}},
            "color": {"field": "m", "type": "nominal", "scale": {"domain": ["Model I, Ensemble A", "Model I, Ensemble T", "Model II, Ensemble A", "Model II, Ensemble T"], "range": ["#ff2a2a", "#000000", "#000000", "#000000"]}, "legend": null},
            "strokeDash": {"field": "m", "type": "nominal", "scale": {"domain": ["Model I, Ensemble A", "Model I, Ensemble T", "Model II, Ensemble A", "Model II, Ensemble T"], "range": [[1, 0], [1, 0], [4, 3], [7, 2, 1.5, 2]]}, "legend": null}
          }
        },
        {
          "data": {"name": "tC"},
          "mark": {"type": "text", "align": "left", "baseline": "middle", "fontSize": 15},
          "encoding": {
            "x": {"field": "x", "type": "quantitative", "scale": {"type": "log", "domain": [10, 20000], "nice": false},
                  "axis": {"orient": "top", "values": [20, 30, 40, 50, 60, 70, 80, 90, 200, 300, 400, 500, 600, 700, 800, 900, 2000, 3000, 4000, 5000, 6000, 7000, 8000, 9000, 20000], "labels": false, "tickSize": -4, "title": null}},
            "y": {"field": "y", "type": "quantitative", "scale": {"domain": [-0.2, 0.257], "nice": false, "zero": false},
                  "axis": {"orient": "right", "values": [-0.19, -0.18, -0.17, -0.16, -0.14, -0.13, -0.12, -0.11, -0.09, -0.08, -0.07, -0.06, -0.04, -0.03, -0.02, -0.01, 0.01, 0.02, 0.03, 0.04, 0.06, 0.07, 0.08, 0.09, 0.11, 0.12, 0.13, 0.14, 0.16, 0.17, 0.18, 0.19, 0.21, 0.22, 0.23, 0.24], "labels": false, "tickSize": -4, "title": null}},
            "text": {"field": "label"}
          }
        }
      ]
    },
    {
      "width": 178, "height": 186,
      "resolve": {"axis": {"x": "independent", "y": "independent"}},
      "layer": [
        {
          "data": {"name": "dD"},
          "mark": {"type": "point", "shape": "triangle-down", "filled": true, "color": "#000", "size": 55, "opacity": 1, "clip": true},
          "encoding": {
            "x": {"field": "x", "type": "quantitative", "scale": {"domain": [0, 0.1], "nice": false},
                  "axis": {"orient": "bottom", "values": [0, 0.025, 0.05, 0.075, 0.1], "format": ".3~f", "labelFontSize": 15, "labelFlush": false, "ticks": false, "labelPadding": 4, "title": "|t| \u00a0(GeV²)", "titleAnchor": "end", "titlePadding": 7}},
            "y": {"field": "y", "type": "quantitative", "scale": {"type": "log", "domain": [52, 81000], "nice": false},
                  "axis": {"orient": "left", "values": [100, 1000, 10000], "labelExpr": "datum.value < 500 ? '10²' : datum.value < 5000 ? '10³' : '10⁴'", "ticks": false, "labelPadding": 3, "title": "dσ/dt \u00a0(mb/GeV²)", "titleAnchor": "end", "titlePadding": 2}}
          }
        },
        {
          "data": {"name": "cD"},
          "mark": {"type": "line", "strokeWidth": 1.2, "clip": true},
          "encoding": {
            "x": {"field": "x", "type": "quantitative", "scale": {"domain": [0, 0.1], "nice": false},
                  "axis": {"orient": "bottom", "values": [0, 0.025, 0.05, 0.075, 0.1], "labels": false, "tickSize": -7, "title": null}},
            "y": {"field": "y", "type": "quantitative", "scale": {"type": "log", "domain": [52, 81000], "nice": false},
                  "axis": {"orient": "left", "values": [100, 1000, 10000], "labels": false, "tickSize": -7, "title": null}},
            "detail": {"field": "e"},
            "color": {"field": "m", "type": "nominal", "scale": {"domain": ["Model I, Ensemble A", "Model I, Ensemble T", "Model II, Ensemble A", "Model II, Ensemble T"], "range": ["#ff2a2a", "#000000", "#000000", "#000000"]}, "legend": null},
            "strokeDash": {"field": "m", "type": "nominal", "scale": {"domain": ["Model I, Ensemble A", "Model I, Ensemble T", "Model II, Ensemble A", "Model II, Ensemble T"], "range": [[1, 0], [1, 0], [4, 3], [7, 2, 1.5, 2]]}, "legend": null}
          }
        },
        {
          "data": {"name": "tD1"},
          "mark": {"type": "text", "align": "left", "baseline": "middle", "fontSize": 14, "angle": 12},
          "encoding": {
            "x": {"field": "x", "type": "quantitative", "scale": {"domain": [0, 0.1], "nice": false},
                  "axis": {"orient": "bottom", "values": [0.005, 0.01, 0.015, 0.02, 0.03, 0.035, 0.04, 0.045, 0.055, 0.06, 0.065, 0.07, 0.08, 0.085, 0.09, 0.095], "labels": false, "tickSize": -4, "title": null}},
            "y": {"field": "y", "type": "quantitative", "scale": {"type": "log", "domain": [52, 81000], "nice": false},
                  "axis": {"orient": "left", "values": [60, 70, 80, 90, 200, 300, 400, 500, 600, 700, 800, 900, 2000, 3000, 4000, 5000, 6000, 7000, 8000, 9000, 20000, 30000, 40000, 50000, 60000, 70000, 80000], "labels": false, "tickSize": -4, "title": null}},
            "text": {"field": "label"}
          }
        },
        {
          "data": {"name": "tD2"},
          "mark": {"type": "text", "align": "left", "baseline": "middle", "fontSize": 12, "angle": 8},
          "encoding": {
            "x": {"field": "x", "type": "quantitative", "scale": {"domain": [0, 0.1], "nice": false},
                  "axis": {"orient": "top", "values": [0, 0.025, 0.05, 0.075, 0.1], "labels": false, "tickSize": -7, "title": null}},
            "y": {"field": "y", "type": "quantitative", "scale": {"type": "log", "domain": [52, 81000], "nice": false},
                  "axis": {"orient": "right", "values": [100, 1000, 10000], "labels": false, "tickSize": -7, "title": null}},
            "text": {"field": "label"}
          }
        },
        {
          "data": {"name": "tD3"},
          "mark": {"type": "text", "align": "left", "baseline": "middle", "fontSize": 15},
          "encoding": {
            "x": {"field": "x", "type": "quantitative", "scale": {"domain": [0, 0.1], "nice": false},
                  "axis": {"orient": "top", "values": [0.005, 0.01, 0.015, 0.02, 0.03, 0.035, 0.04, 0.045, 0.055, 0.06, 0.065, 0.07, 0.08, 0.085, 0.09, 0.095], "labels": false, "tickSize": -4, "title": null}},
            "y": {"field": "y", "type": "quantitative", "scale": {"type": "log", "domain": [52, 81000], "nice": false},
                  "axis": {"orient": "right", "values": [60, 70, 80, 90, 200, 300, 400, 500, 600, 700, 800, 900, 2000, 3000, 4000, 5000, 6000, 7000, 8000, 9000, 20000, 30000, 40000, 50000, 60000, 70000, 80000], "labels": false, "tickSize": -4, "title": null}},
            "text": {"field": "label"}
          }
        }
      ]
    }
  ]
}
